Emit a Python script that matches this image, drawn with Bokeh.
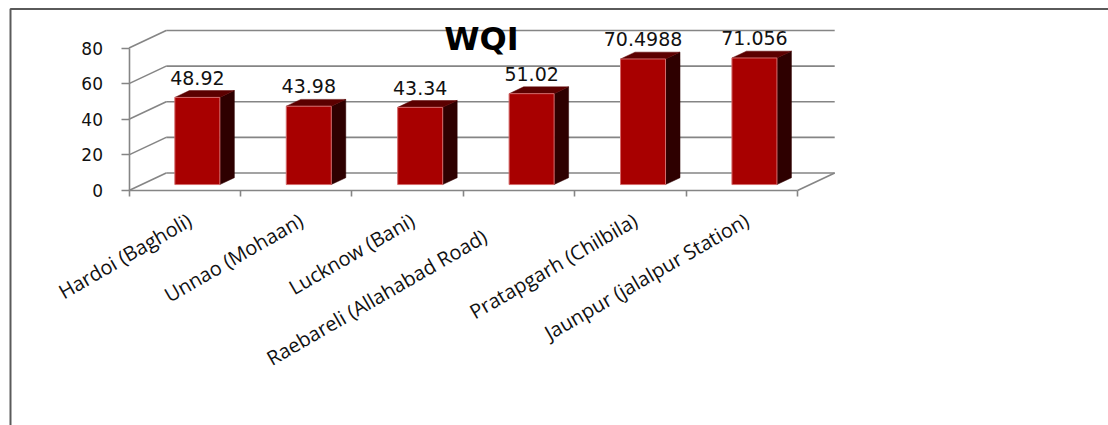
import numpy as np
from bokeh.plotting import figure
from bokeh.models import Range1d, LinearAxis, FixedTicker, Label
from bokeh.core.properties import value
from bokeh.embed import file_html
from bokeh.resources import INLINE

# ---------------- data ----------------
sites = ["Hardoi (Bagholi)", "Unnao (Mohaan)", "Lucknow (Bani)",
         "Raebareli (Allahabad Road)", "Pratapgarh (Chilbila)",
         "Jaunpur (jalalpur Station)"]
wqi = [48.92, 43.98, 43.34, 51.02, 70.4988, 71.056]
wqi_labels = ["48.92", "43.98", "43.34", "51.02", "70.4988", "71.056"]
y_ticks = [0, 20, 40, 60, 80]
title_text = "WQI"

# ---------------- layout (pixels) ----------------
W, H = 1108, 425
n = len(sites)
px_x0, px_xn = 128.5, 797.0      # front category axis span
px_y0, px_ytop = 190.0, 47.5     # front value axis: 0 and 80
kx = (px_xn - px_x0) / n
ky = (px_y0 - px_ytop) / max(y_ticks)
xs = -px_x0 / kx
xe = xs + W / kx
ye = px_y0 / ky
ys = ye - H / ky
DX = 37.2 / kx                   # depth offset of the 3D box
DY = 17.5 / ky
BW = 45.0 / kx                   # bar front width
F0, F1 = 0.34, 0.73              # bar depth fractions
dd = F1 - F0
label_gap = 13.0 / ky            # gap between bar top and its value label
# per-label screen offsets of the slanted category labels
cat_dx = [5, 5, 5, -34, 5, 5]
cat_dy = [28, 28, 28, 44, 28, 28]

p = figure(width=W, height=H, x_range=Range1d(xs, xe), y_range=Range1d(ys, ye),
           output_backend="svg", toolbar_location=None,
           x_axis_location=None, y_axis_location=None, min_border=0)
p.outline_line_color = None
p.background_fill_color = "white"
p.border_fill_color = "white"

grid_col = "#858585"
ymax = max(y_ticks)

# back wall gridlines
p.multi_line(xs=[[DX, n + DX] for t in y_ticks],
             ys=[[t + DY, t + DY] for t in y_ticks],
             line_color=grid_col, line_width=1.6)
# left wall depth lines
p.multi_line(xs=[[0, DX] for t in y_ticks],
             ys=[[t, t + DY] for t in y_ticks],
             line_color=grid_col, line_width=1.6)
# floor right edge
p.line(x=[n, n + DX], y=[0, DY], line_color=grid_col, line_width=1.6)

# bars
centers = [i + 0.5 for i in range(n)]
front_x, front_y, top_x, top_y, side_x, side_y = [], [], [], [], [], []
for c, v in zip(centers, wqi):
    xl = c - BW / 2 + F0 * DX
    xr = c + BW / 2 + F0 * DX
    b = F0 * DY
    t = v + F0 * DY
    front_x.append([xl, xr, xr, xl]); front_y.append([b, b, t, t])
    top_x.append([xl, xr, xr + dd * DX, xl + dd * DX]); top_y.append([t, t, t + dd * DY, t + dd * DY])
    side_x.append([xr, xr + dd * DX, xr + dd * DX, xr]); side_y.append([b, b + dd * DY, t + dd * DY, t])

p.patches(side_x, side_y, fill_color="#2E0000", line_color="#2E0000", line_width=0.5)
p.patches(top_x, top_y, fill_color="#5C0000", line_color="#5C0000", line_width=0.5)
p.patches(front_x, front_y, fill_color="#A80000", line_color="#D46A6A", line_width=1)

# value labels
p.text(x=[c + F0 * DX for c in centers], y=[v + F1 * DY + label_gap for v in wqi],
       text=wqi_labels, text_align="center", text_baseline="alphabetic",
       text_font=value("DejaVu Sans"), text_font_size="19px", text_color="#111111")

# category labels
p.text(x=centers, y=[0] * n, text=sites, angle=np.deg2rad(30),
       text_align="right", text_baseline="middle", x_offset=cat_dx, y_offset=cat_dy,
       text_font=value("Open Sans"), text_font_size="20px", text_color="#111111")

# value axis (front)
yaxis = LinearAxis(fixed_location=0, ticker=FixedTicker(ticks=y_ticks), bounds=(0, ymax))
yaxis.axis_line_color = grid_col
yaxis.axis_line_width = 1.6
yaxis.major_tick_line_color = grid_col
yaxis.major_tick_line_width = 1.6
yaxis.major_tick_out = 8
yaxis.major_tick_in = 0
yaxis.minor_tick_line_color = None
yaxis.major_label_standoff = 18
yaxis.major_label_text_font = "DejaVu Sans"
yaxis.major_label_text_font_size = "17px"
yaxis.major_label_text_color = "#111111"
p.add_layout(yaxis, "left")

# category axis (front floor edge) - ticks at category boundaries
xaxis = LinearAxis(fixed_location=0, ticker=FixedTicker(ticks=list(range(n + 1))), bounds=(0, n))
xaxis.axis_line_color = grid_col
xaxis.axis_line_width = 1.6
xaxis.major_tick_line_color = grid_col
xaxis.major_tick_line_width = 1.6
xaxis.major_tick_out = 6
xaxis.major_tick_in = 0
xaxis.minor_tick_line_color = None
xaxis.major_label_overrides = {i: "" for i in range(n + 1)}
p.add_layout(xaxis, "below")

p.xgrid.visible = False
p.ygrid.visible = False

# chart border (top and left edges visible in the window)
bx = xs + 10 / kx
by = ye - 8.5 / ky
p.line(x=[bx, bx, xe + 1], y=[ys - 1, by, by], line_color="#5A5A5A", line_width=2)

# title
p.add_layout(Label(x=481, y=H - 38, x_units="screen", y_units="screen", text=title_text,
                   text_align="center", text_baseline="alphabetic",
                   text_font="DejaVu Sans", text_font_style="bold",
                   text_font_size="32px", text_color="#000000"))

open("out.html", "w").write(file_html(p, INLINE))
